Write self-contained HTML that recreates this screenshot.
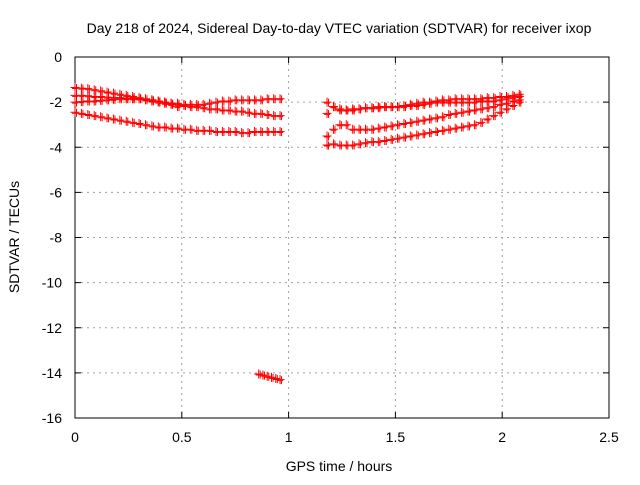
<!DOCTYPE html>
<html><head><meta charset="utf-8"><style>
body{margin:0;background:#fff}
svg text{font-family:"Liberation Sans",sans-serif;font-size:14px;fill:#000}
</style></head><body>
<svg id="chart" width="640" height="480" xmlns="http://www.w3.org/2000/svg">
<rect width="640" height="480" fill="#fff"/>
<text x="339" y="33" text-anchor="middle">Day 218 of 2024, Sidereal Day-to-day VTEC variation (SDTVAR) for receiver ixop</text>
<text x="339" y="471" text-anchor="middle">GPS time / hours</text>
<text transform="translate(19,237) rotate(-90)" text-anchor="middle">SDTVAR / TECUs</text>
<g id="grid"></g><g id="axes"></g><g id="marks"></g>
</svg>
<script>
const xTicks=[0,0.5,1,1.5,2,2.5];
const xTickLabels=["0","0.5","1","1.5","2","2.5"];
const yTicks=[0,-2,-4,-6,-8,-10,-12,-14,-16];
const yTickLabels=["0","-2","-4","-6","-8","-10","-12","-14","-16"];
const timesLeft=[0,0.03,0.06,0.09,0.12,0.15,0.18,0.21,0.24,0.27,0.30,0.33,0.36,0.39,0.42,0.45,0.48,0.51,0.54,0.57,0.60,0.63,0.66,0.69,0.72,0.75,0.78,0.81,0.84,0.87,0.90,0.93,0.96];
const seriesA=[-1.35,-1.38,-1.4,-1.45,-1.5,-1.55,-1.6,-1.65,-1.7,-1.75,-1.8,-1.85,-1.9,-1.95,-2.0,-2.05,-2.05,-2.1,-2.1,-2.1,-2.1,-2.05,-2.0,-1.95,-1.95,-1.9,-1.9,-1.9,-1.9,-1.9,-1.85,-1.85,-1.85];
const seriesB=[-1.7,-1.7,-1.72,-1.75,-1.75,-1.78,-1.8,-1.8,-1.82,-1.85,-1.85,-1.88,-1.9,-1.95,-2.0,-2.05,-2.1,-2.15,-2.2,-2.2,-2.25,-2.3,-2.3,-2.35,-2.35,-2.4,-2.4,-2.45,-2.5,-2.5,-2.55,-2.6,-2.6];
const seriesC=[-2.0,-1.98,-1.95,-1.95,-1.92,-1.9,-1.88,-1.85,-1.85,-1.85,-1.85,-1.9,-1.95,-2.0,-2.05,-2.1,-2.2];
const seriesD=[-2.45,-2.5,-2.55,-2.6,-2.65,-2.7,-2.75,-2.8,-2.85,-2.9,-2.95,-3.0,-3.05,-3.1,-3.1,-3.15,-3.15,-3.2,-3.2,-3.25,-3.25,-3.25,-3.3,-3.3,-3.3,-3.3,-3.35,-3.35,-3.3,-3.3,-3.3,-3.3,-3.3];
const timesRight=[1.18,1.21,1.24,1.27,1.30,1.33,1.36,1.39,1.42,1.45,1.48,1.51,1.54,1.57,1.60,1.63,1.66,1.69,1.72,1.75,1.78,1.81,1.84,1.87,1.90,1.93,1.96,1.99,2.02,2.05,2.08];
const seriesE=[-2.0,-2.2,-2.35,-2.35,-2.3,-2.3,-2.25,-2.25,-2.25,-2.2,-2.2,-2.2,-2.15,-2.1,-2.05,-2.0,-2.0,-1.95,-1.9,-1.9,-1.85,-1.85,-1.85,-1.85,-1.85,-1.8,-1.8,-1.75,-1.75,-1.7,-1.65];
const seriesF=[-2.5,-2.2,-2.3,-2.35,-2.35,-2.3,-2.25,-2.25,-2.2,-2.2,-2.2,-2.2,-2.2,-2.15,-2.15,-2.1,-2.05,-2.0,-2.0,-2.0,-2.0,-2.0,-2.0,-2.0,-1.95,-1.95,-1.95,-1.9,-1.85,-1.8,-1.75];
const seriesG=[-3.5,-3.2,-3.0,-3.0,-3.2,-3.2,-3.2,-3.2,-3.15,-3.1,-3.05,-3.0,-2.95,-2.9,-2.85,-2.8,-2.75,-2.7,-2.65,-2.55,-2.5,-2.45,-2.4,-2.35,-2.3,-2.25,-2.2,-2.1,-2.05,-1.95,-1.9];
const seriesH=[-3.9,-3.85,-3.9,-3.9,-3.9,-3.85,-3.8,-3.75,-3.75,-3.7,-3.65,-3.6,-3.55,-3.5,-3.45,-3.4,-3.35,-3.3,-3.25,-3.2,-3.15,-3.1,-3.05,-3.0,-2.9,-2.75,-2.6,-2.45,-2.3,-2.15,-2.0];
const timesOutlier=[0.86,0.88,0.90,0.92,0.94,0.96];
const seriesOutlier=[-14.05,-14.1,-14.15,-14.2,-14.25,-14.3];

const NS="http://www.w3.org/2000/svg";
const L=75,R=609,T=57,B=418;
const xs=t=>L+(t-0)/(2.5)*(R-L);
const ys=v=>T+(0-v)/16*(B-T);
function mk(tag,attrs,parent){const e=document.createElementNS(NS,tag);for(const k in attrs)e.setAttribute(k,attrs[k]);parent.appendChild(e);return e;}
const grid=document.getElementById('grid'),axes=document.getElementById('axes'),marks=document.getElementById('marks');
xTicks.forEach((t,i)=>{const x=xs(t);
 if(i>0&&i<xTicks.length-1){const g=mk('line',{x1:x,x2:x,y1:T,y2:B,stroke:'#a0a0a0','stroke-dasharray':'2,4'},grid);
 
 }
 mk('line',{x1:x,x2:x,y1:B,y2:B-6,stroke:'#000'},axes);
 mk('line',{x1:x,x2:x,y1:T,y2:T+6,stroke:'#000'},axes);
 const tx=mk('text',{x:x,y:B+24,'text-anchor':'middle'},axes);tx.textContent=xTickLabels[i];
 
 
});
yTicks.forEach((v,i)=>{const y=ys(v);
 if(i>0&&i<yTicks.length-1){const g=mk('line',{x1:L,x2:R,y1:y,y2:y,stroke:'#a0a0a0','stroke-dasharray':'2,4'},grid);
 
 }
 mk('line',{x1:L,x2:L+6,y1:y,y2:y,stroke:'#000'},axes);
 mk('line',{x1:R,x2:R-6,y1:y,y2:y,stroke:'#000'},axes);
 const tx=mk('text',{x:L-13,y:y+5,'text-anchor':'end'},axes);tx.textContent=yTickLabels[i];
 
 
});
const frame=mk('rect',{x:L,y:T,width:R-L,height:B-T,fill:'none',stroke:'#000'},axes);


function plot(times,vals,name){
 const g=mk('g',{stroke:'#ff0000','stroke-width':1},marks);
 
 
 vals.forEach((v,i)=>{const x=xs(times[i]),y=ys(v);
  mk('path',{d:`M${x-4.5},${y}H${x+4.5}M${x},${y-4.5}V${y+4.5}`},g);
  mk('path',{d:`M${x-3},${y+1}H${x+3}M${x+1.5},${y-3.5}V${y+4.5}`},g);
 });
}
plot(timesLeft,seriesA,'series-a');
plot(timesLeft,seriesB,'series-b');
plot(timesLeft,seriesC,'series-c');
plot(timesLeft,seriesD,'series-d');
plot(timesRight,seriesE,'series-e');
plot(timesRight,seriesF,'series-f');
plot(timesRight,seriesG,'series-g');
plot(timesRight,seriesH,'series-h');
plot(timesOutlier,seriesOutlier,'series-outlier');
</script>
</body></html>
